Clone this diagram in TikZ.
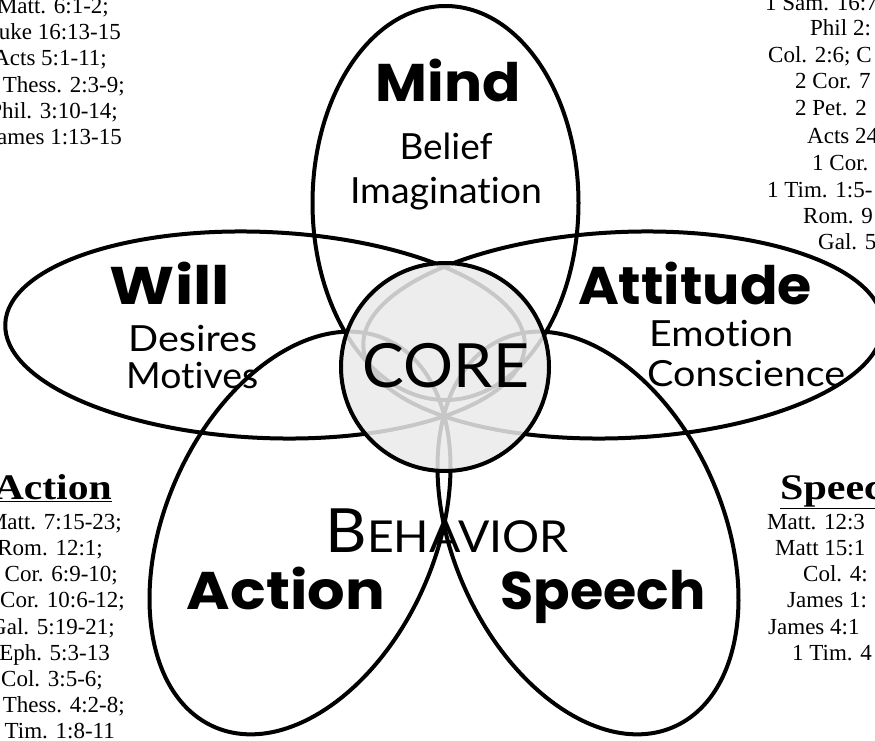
\documentclass[tikz,border=0pt]{standalone}
\usepackage{fontspec}
\usepackage{graphicx}
\setmainfont{Liberation Serif}
\newfontfamily\gill[Ligatures={NoCommon}]{Lato}
\newfontfamily\gillbold[Ligatures={NoCommon}]{Poppins}
\newcommand{\fitw}[2]{\resizebox{#1pt}{\height}{#2}}
\begin{document}
\begin{tikzpicture}[x=1pt,y=1pt,
  petal/.style={line width=4pt},
  ref/.style={font=\fontsize{23}{23}\selectfont, inner sep=0pt},
  refhead/.style={font=\bfseries\fontsize{36}{36}\selectfont, inner sep=0pt},
  lbl/.style={font=\gill\fontsize{36}{36}\selectfont, inner sep=0pt},
  big/.style={font=\gillbold\bfseries\fontsize{53}{53}\selectfont, inner sep=0pt},
  corefont/.style={font=\gill\fontsize{61}{61}\selectfont, inner sep=0pt}]
\useasboundingbox (0,0) rectangle (875,-741);
\fill[white] (0,0) rectangle (875,-741);
\begin{scope}
\clip (0,0) rectangle (875,-741);
% petals
\draw[petal] (445.5,-203) ellipse [x radius=133, y radius=197];
\draw[petal, rotate around={-2.5:(265,-335)}] (265,-335) ellipse [x radius=260, y radius=103];
\draw[petal, rotate around={2.5:(623,-335)}] (623,-335) ellipse [x radius=260, y radius=103];
\draw[petal, rotate around={66:(300,-533)}] (300,-533) ellipse [x radius=212, y radius=135];
\draw[petal, rotate around={114:(588,-533)}] (588,-533) ellipse [x radius=212, y radius=135];
% core
\node[circle, minimum size=208pt, fill=black!8, fill opacity=0.85, draw, line width=4pt] (core) at (445,-367) {};
\node[corefont, anchor=base] (coretxt) at (446,-387) {\fitw{166}{CORE}};
% labels
\node[big, anchor=base] (mind) at (448,-102) {\fitw{145}{Mind}};
\node[lbl, anchor=base] (belief) at (446,-159) {\fitw{93}{Belief}};
\node[lbl, anchor=base] (imag) at (446,-203) {\fitw{192}{Imagination}};
\node[big, anchor=base, text depth=0pt] (will) at (170,-304) {\fitw{120}{Will}};
\node[lbl, anchor=base west] (desires) at (128,-351) {\fitw{129}{Desires}};
\node[lbl, anchor=base west] (motives) at (126,-388) {\fitw{132}{Motives}};
\node[big, anchor=base, text depth=0pt] (att) at (695,-304) {\fitw{234}{Attitude}};
\node[lbl, anchor=base west, text depth=0pt] (emotion) at (649,-346) {\fitw{144}{Emotion}};
\node[lbl, anchor=base west] (consc) at (647,-386) {\fitw{198}{Conscience}};
\node[anchor=base, inner sep=0pt] (behav) at (447,-552) {\fitw{243}{\gill\fontsize{61}{61}\selectfont B\fontsize{44}{44}\selectfont EHAVIOR}};
\node[big, anchor=base] (action) at (286,-609) {\fitw{198}{Action}};
\node[big, anchor=base] (speech) at (603,-609) {\fitw{205}{Speech}};
% top-left references
\node[ref, anchor=base east] at (109,-13.5) {Matt. 6:1-2;};
\node[ref, anchor=base east] at (121,-39.7) {Luke 16:13-15};
\node[ref, anchor=base east] at (107,-65.9) {Acts 5:1-11;};
\node[ref, anchor=base east] at (125,-92.1) {1 Thess. 2:3-9;};
\node[ref, anchor=base east] at (118,-118.3) {Phil. 3:10-14;};
\node[ref, anchor=base east] at (122,-144.5) {James 1:13-15};
% top-right references
\node[ref, anchor=base west] at (765,-11) {1 Sam. 16:7};
\node[ref, anchor=base west] at (810,-36) {Phil 2:};
\node[ref, anchor=base west] at (768,-63) {Col. 2:6; C};
\node[ref, anchor=base west] at (795,-89) {2 Cor. 7};
\node[ref, anchor=base west] at (795,-116) {2 Pet. 2};
\node[ref, anchor=base west] at (807,-143) {Acts 24};
\node[ref, anchor=base west] at (812,-170) {1 Cor.};
\node[ref, anchor=base west] at (767,-197) {1 Tim. 1:5-};
\node[ref, anchor=base west] at (803,-223) {Rom. 9};
\node[ref, anchor=base west] at (818,-249) {Gal. 5};
% bottom-left references
\node[refhead, anchor=base east] at (112,-499) {\fitw{118}{\underline{Action}}};
\node[ref, anchor=base east] at (122,-529) {Matt. 7:15-23;};
\node[ref, anchor=base east] at (103,-555) {Rom. 12:1;};
\node[ref, anchor=base east] at (118,-581) {1 Cor. 6:9-10;};
\node[ref, anchor=base east] at (125,-607) {1 Cor. 10:6-12;};
\node[ref, anchor=base east] at (115,-634) {Gal. 5:19-21;};
\node[ref, anchor=base east] at (110,-660) {Eph. 5:3-13};
\node[ref, anchor=base east] at (103,-686) {Col. 3:5-6;};
\node[ref, anchor=base east] at (125,-712) {1 Thess. 4:2-8;};
\node[ref, anchor=base east] at (115,-738) {1 Tim. 1:8-11};
% bottom-right references
\node[refhead, anchor=base west] at (780,-499) {\fitw{126}{\underline{Speech}}};
\node[ref, anchor=base west] at (767,-529) {Matt. 12:3};
\node[ref, anchor=base west] at (775,-555) {Matt 15:1};
\node[ref, anchor=base west] at (803,-581) {Col. 4:};
\node[ref, anchor=base west] at (787,-607) {James 1:};
\node[ref, anchor=base west] at (768,-634) {James 4:1};
\node[ref, anchor=base west] at (792,-660) {1 Tim. 4};
\end{scope}
\end{tikzpicture}
\end{document}
